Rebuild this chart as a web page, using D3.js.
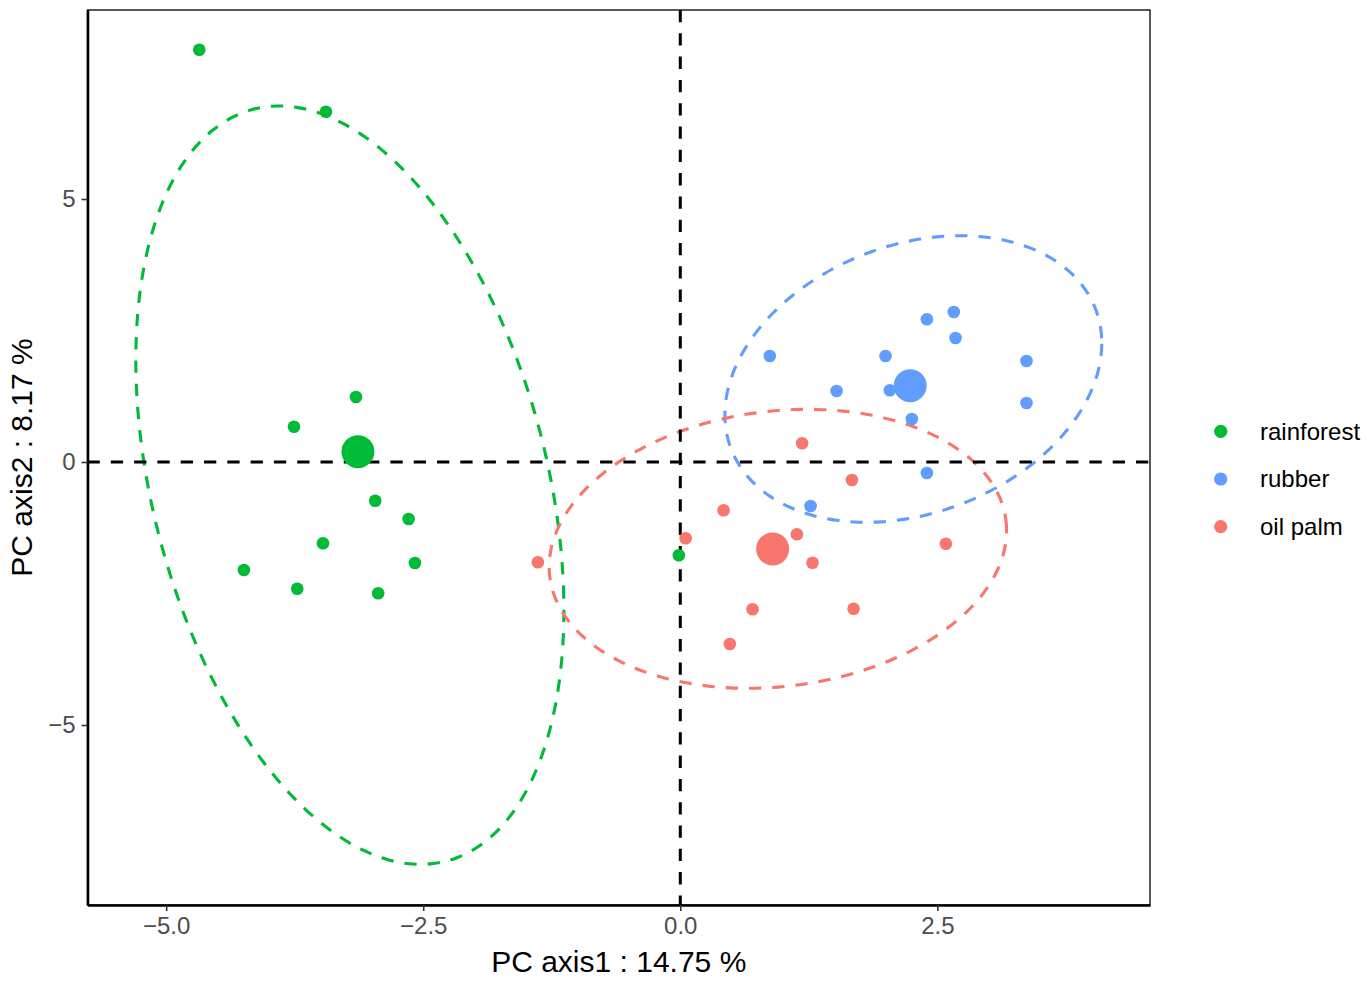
<!DOCTYPE html>
<html>
<head>
<meta charset="utf-8">
<script src="https://cdn.jsdelivr.net/npm/d3@7"></script>
<style>
  html, body { margin: 0; padding: 0; background: #ffffff; }
  svg { display: block; font-family: "Liberation Sans", Arial, Helvetica, sans-serif; }
</style>
</head>
<body>
<svg id="chart" width="1371" height="981"></svg>
<script>
// ---------------- data ----------------
const groups = ["rainforest", "rubber", "oil palm"];
const groupColors = ["#00BA38", "#619CFF", "#F8766D"];

const xTicks = [-5.0, -2.5, 0.0, 2.5];
const yTicks = [-5, 0, 5];
const xTitle = "PC axis1 : 14.75 %";
const yTitle = "PC axis2 : 8.17 %";

const rainforestX = [-4.678, -3.446, -3.154, -3.757, -2.967, -2.642, -3.475, -2.581, -4.244, -3.725, -2.938, -0.014];
const rainforestY = [7.838, 6.660, 1.236, 0.671, -0.736, -1.084, -1.546, -1.920, -2.053, -2.409, -2.496, -1.774];

const rubberX = [0.871, 1.996, 2.398, 2.660, 2.677, 3.367, 1.520, 2.038, 3.367, 2.252, 2.398, 1.267];
const rubberY = [2.015, 2.015, 2.713, 2.852, 2.357, 1.920, 1.350, 1.363, 1.122, 0.817, -0.209, -0.837];

const oilPalmX = [1.185, 1.669, 0.421, 0.052, 1.134, 1.286, 2.583, -1.385, 0.703, 1.685, 0.482];
const oilPalmY = [0.356, -0.342, -0.918, -1.451, -1.375, -1.915, -1.553, -1.907, -2.800, -2.789, -3.460];

const centroidX = [-3.135, 2.236, 0.898];
const centroidY = [0.196, 1.451, -1.654];

// ellipse (95%) parameters in data units: centre, half extents, correlation
const ellipseCX = [-3.2135, 2.2665, 0.949];
const ellipseCY = [-0.4405, 1.578, -1.650];
const ellipseSX = [2.0815, 1.8325, 2.224];
const ellipseSY = [7.2085, 2.724, 2.652];
const ellipseR  = [-0.33, 0.25, 0.13];

const xDomain = [-5.765, 4.568];
const yDomain = [-8.422, 8.593];

// ---------------- layout ----------------
const svg = d3.select("#chart");
const panel = { left: 87.5, right: 1150, top: 10, bottom: 905 };

const x = d3.scaleLinear().domain(xDomain).range([panel.left, panel.right]);
const y = d3.scaleLinear().domain(yDomain).range([panel.bottom, panel.top]);

// panel border (thin)
svg.append("rect")
  .attr("x", panel.left).attr("y", panel.top)
  .attr("width", panel.right - panel.left).attr("height", panel.bottom - panel.top)
  .attr("fill", "none").attr("stroke", "#000").attr("stroke-width", 1.3);

const plot = svg.append("g");

// ellipses
const tSteps = d3.range(0, 361, 2).map(d => d * Math.PI / 180);
groups.forEach((g, i) => {
  const pts = tSteps.map(t => {
    const dx = ellipseCX[i] + ellipseSX[i] * Math.cos(t);
    const dy = ellipseCY[i] + ellipseSY[i] * (ellipseR[i] * Math.cos(t) + Math.sqrt(1 - ellipseR[i] * ellipseR[i]) * Math.sin(t));
    return [x(dx), y(dy)];
  });
  plot.append("path")
    .attr("d", d3.line().curve(d3.curveCardinalClosed)(pts.slice(0, -1)))
    .attr("fill", "none")
    .attr("stroke", groupColors[i])
    .attr("stroke-width", 3.1)
    .attr("stroke-dasharray", "12.3,11");
});

// reference lines at 0
plot.append("line")
  .attr("x1", panel.left).attr("x2", panel.right)
  .attr("y1", y(0)).attr("y2", y(0))
  .attr("stroke", "#000").attr("stroke-width", 3).attr("stroke-dasharray", "12.3,11");
plot.append("line")
  .attr("x1", x(0)).attr("x2", x(0))
  .attr("y1", panel.top).attr("y2", panel.bottom)
  .attr("stroke", "#000").attr("stroke-width", 3).attr("stroke-dasharray", "12.3,11");

// points
const seriesX = [rainforestX, rubberX, oilPalmX];
const seriesY = [rainforestY, rubberY, oilPalmY];
groups.forEach((g, i) => {
  plot.append("g").selectAll("circle")
    .data(seriesX[i].map((v, j) => [v, seriesY[i][j]]))
    .join("circle")
    .attr("cx", d => x(d[0]))
    .attr("cy", d => y(d[1]))
    .attr("r", 6.3)
    .attr("fill", groupColors[i]);
});
// centroids
plot.append("g").selectAll("circle")
  .data(groups.map((g, i) => ({ cx: centroidX[i], cy: centroidY[i], c: groupColors[i] })))
  .join("circle")
  .attr("cx", d => x(d.cx))
  .attr("cy", d => y(d.cy))
  .attr("r", 16.5)
  .attr("fill", d => d.c);

// axes
const fmtX = d3.format(".1f");
const xAxis = svg.append("g")
  .attr("transform", `translate(0,${panel.bottom})`)
  .call(d3.axisBottom(x).tickValues(xTicks).tickFormat(fmtX).tickSize(6).tickSizeOuter(0).tickPadding(6));
const yAxis = svg.append("g")
  .attr("transform", `translate(${panel.left},0)`)
  .call(d3.axisLeft(y).tickValues(yTicks).tickFormat(d3.format("d")).tickSize(6).tickSizeOuter(0).tickPadding(6));

[xAxis, yAxis].forEach(a => {
  a.select(".domain").attr("stroke", "#000").attr("stroke-width", 2.6);
  a.selectAll(".tick line").attr("stroke", "#333333").attr("stroke-width", 1.6);
  a.selectAll(".tick text")
    .attr("fill", "#4D4D4D")
    .style("font-size", "24px")
    .style("font-family", "'Liberation Sans', Arial, sans-serif");
});

// axis titles
svg.append("text")
  .attr("x", (panel.left + panel.right) / 2)
  .attr("y", 972)
  .attr("text-anchor", "middle")
  .style("font-size", "30px")
  .attr("fill", "#000")
  .text(xTitle);
svg.append("text")
  .attr("transform", `translate(32,${(panel.top + panel.bottom) / 2}) rotate(-90)`)
  .attr("text-anchor", "middle")
  .style("font-size", "30px")
  .attr("fill", "#000")
  .text(yTitle);

// legend
const legend = svg.append("g");
const legendY0 = 431.3, legendStep = 47.7;
groups.forEach((g, i) => {
  legend.append("circle")
    .attr("cx", 1220.7).attr("cy", legendY0 + i * legendStep)
    .attr("r", 6.6).attr("fill", groupColors[i]);
  legend.append("text")
    .attr("x", 1260).attr("y", legendY0 + i * legendStep)
    .attr("dy", "0.35em")
    .style("font-size", "24px")
    .attr("fill", "#000")
    .text(g);
});
</script>
</body>
</html>
